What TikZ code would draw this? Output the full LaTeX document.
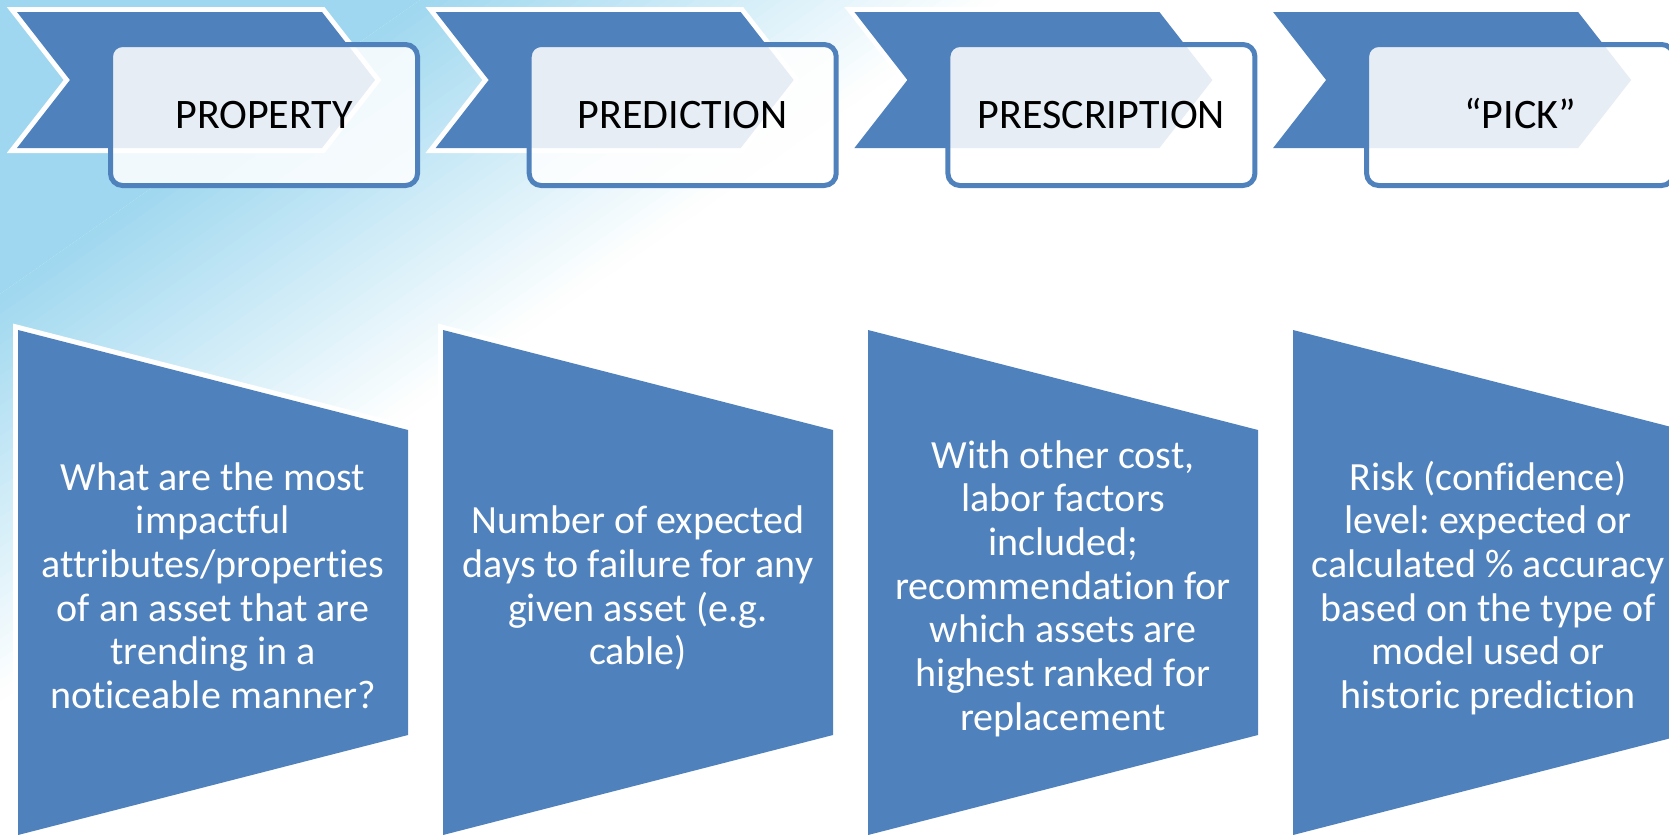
\documentclass[tikz,border=0pt]{standalone}
\usepackage{fontspec}
\setmainfont{Carlito}[Ligatures=NoCommon]
\frenchspacing
\definecolor{ofblue}{RGB}{79,129,189}
\definecolor{sky}{RGB}{158,215,239}
\tikzset{
  shapefill/.style={fill=ofblue, preaction={draw=white, line width=10pt, line join=miter}},
  topbox/.style={draw=ofblue, line width=5pt, fill=white, fill opacity=0.86, draw opacity=1, text opacity=1,
    rounded corners=12pt, minimum width=307pt, minimum height=141pt, inner sep=0pt,
    text height=27pt, text depth=0pt, font=\fontsize{42pt}{50pt}\selectfont, text=black},
  bottext/.style={align=center, inner sep=0pt, text=white, font=\fontsize{40pt}{43.7pt}\selectfont}
}
\begin{document}
\begin{tikzpicture}[x=1pt,y=-1pt]
\useasboundingbox (0,0) rectangle (1669,838);
\clip (0,0) rectangle (1669,838);
\fill[white] (0,0) rectangle (1669,838);
% background gradient (top-left)
\fill[sky] (0,0) -- (420,0) -- (0,294) -- cycle;
\foreach \i in {0,...,39} {
  \pgfmathsetmacro\ta{0.42+0.58*\i/40}
  \pgfmathsetmacro\tb{0.42+0.58*(\i+1)/40}
  \pgfmathtruncatemacro\p{100-100*(\i+0.5)/40}
  \fill[sky!\p!white] ({\ta*1000},0) -- ({\tb*1000+1},0) -- (0,{\tb*700+1}) -- (0,{\ta*700}) -- cycle;
}
% top chevrons with boxes
\foreach \x/\lab [count=\k] in {17/PROPERTY, 435.7/PREDICTION, 854.4/PRESCRIPTION, 1273.1/{“PICK”}} {
  \path[shapefill] (\x,12) -- ++(305,0) -- ++(53,68) -- ++(-53,68) -- ++(-305,0) -- ++(53,-68) -- cycle;
  \node[topbox] (b\k) at (\x+247,115) {\lab};
}
% bottom trapezoids
\foreach \x [count=\k] in {18,443,868,1293} {
  \path[shapefill] (\x,330) -- (\x+390,430) -- (\x+390,735) -- (\x,835) -- cycle;
  \coordinate (tc\k) at (\x+195,590.5);
}
\node[bottext] (t1) at (tc1) {\strut What are the most\\impactful\\attributes/properties\\of an asset that are\\trending in a\\noticeable manner?\strut};
\node[bottext] (t2) at (tc2) {\strut Number of expected\\days to failure for any\\given asset (e.g.\\cable)\strut};
\node[bottext] (t3) at (tc3) {\strut With other cost,\\labor factors\\included;\\recommendation for\\which assets are\\highest ranked for\\replacement\strut};
\node[bottext] (t4) at (tc4) {\strut Risk (confidence)\\level: expected or\\calculated \% accuracy\\based on the type of\\model used or\\historic prediction\strut};
\end{tikzpicture}
\end{document}
